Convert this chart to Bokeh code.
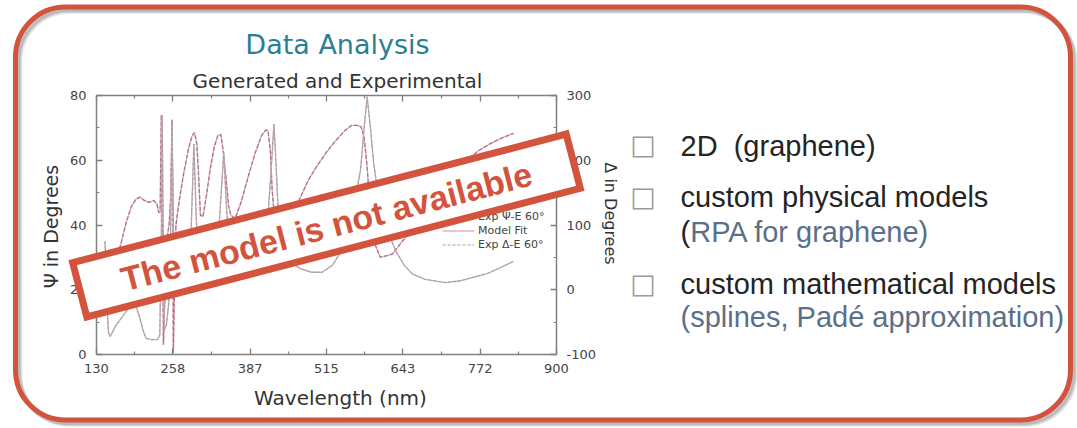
import numpy as np
from bokeh.plotting import figure
from bokeh.layouts import GridBox
from bokeh.models import (Range1d, LinearAxis, FixedTicker, Label, BoxAnnotation,
                          PolyAnnotation, Legend, LegendItem)
from bokeh.core.properties import value
from bokeh.embed import file_html
from bokeh.resources import INLINE

# ---------------- ellipsometry spectra ----------------
psi_wavelength = [150, 158, 166, 172, 180, 188, 196, 203, 210, 218, 226, 231, 234, 236.5,
                  238.5, 240.5, 242, 244.5, 248, 251.5, 254, 256.5, 258, 258.6, 260.5, 263,
                  268, 276, 284, 290, 294, 298, 301, 304, 308, 314, 320, 327, 333, 338, 342,
                  347, 351, 355, 362, 372, 384, 396, 406, 413, 417, 421, 424, 428, 434, 443,
                  456, 470, 485, 500, 515, 530, 545, 557, 566, 573, 578, 583, 588, 594, 605,
                  625, 655, 690, 720, 742, 756, 770, 790, 810, 828]
psi_deg = [22, 27, 31, 35, 41, 45.5, 48, 48.6, 47.6, 47, 47.6, 46.5, 44, 44,
           74, 38, 3, 18, 36, 40, 48, 72.5, 40, 0.5, 20, 40,
           47, 56, 63.5, 67.5, 68.5, 65, 55, 43, 42.5, 49, 57, 64, 67.6, 68, 63,
           54, 46, 43, 42, 47, 55, 62.5, 67.5, 69.3, 69.2, 63, 51, 42, 38.5, 38,
           42, 48, 54, 58.5, 62.5, 66, 69, 70.8, 70.8, 70.3, 67, 58, 45, 35, 30,
           31, 38, 47, 54, 58.5, 61, 63, 65.2, 67, 68.3]

delta_wavelength = [144, 146, 148, 150, 153, 162, 173, 184, 194, 202, 208, 213, 222, 232,
                    236, 238.5, 240, 241.5, 243.5, 247, 251, 254, 256.5, 258.5, 261, 266,
                    274, 282, 288, 293, 297, 302, 312, 326, 336, 343, 348, 355, 368, 388,
                    405, 416, 422, 427, 431, 435, 441, 452, 470, 490, 508, 525, 540, 553,
                    563, 572, 578, 583, 588, 594, 601, 612, 622, 631, 645, 658, 680, 714,
                    740, 764, 784, 806, 828]
delta_deg = [75, 40, -30, -66, -72, -56, -42, -28, -20, -42, -63, -75, -77, -77,
             -70, 80, 269, 110, -62, -55, -20, 80, 255, 110, 10, 0,
             5, 20, 80, 225, 110, 35, 18, 35, 110, 212, 120, 45, 20, 22,
             40, 100, 180, 256, 185, 105, 65, 45, 33, 27, 27, 38, 60, 95,
             140, 185, 250, 298, 255, 195, 150, 105, 80, 60, 38, 25, 16, 11,
             14, 20, 25, 34, 44]

wavelength_ticks = [130, 258, 387, 515, 643, 772, 900]
psi_ticks = [0, 20, 40, 60, 80]
delta_ticks = [-100, 0, 100, 200, 300]

bullet_lines = ["2D\u00a0 (graphene)", "custom physical models", "custom mathematical models"]
bullet_notes = ["(", "RPA for graphene)", "(splines, Padé approximation)"]

# ---------------- page geometry & palette ----------------
W, H = 1077, 428
FL, FR, FT, FB = 96, 556, 95, 354          # plot frame edges, page pixels
RED = "#d3533d"
AXIS = "#808080"
INK = "#242424"
SLATE = "#5b6f88"
TEAL = "#2a7f95"

# ---------------- the chart ----------------
p = figure(width=W, height=H, x_range=Range1d(130, 900), y_range=Range1d(0, 80),
           x_axis_type=None, y_axis_type=None,
           output_backend="svg", toolbar_location=None,
           min_border_left=FL, min_border_right=W - FR,
           min_border_top=FT, min_border_bottom=H - FB)
p.frame_align = False
p.background_fill_color = "white"
p.border_fill_color = "white"
p.outline_line_color = AXIS
p.outline_line_width = 1.5
p.extra_y_ranges = {"delta": Range1d(-100, 300)}


def mids(t):
    return [(a + b) / 2 for a, b in zip(t[:-1], t[1:])]


def style_axis(ax, show_labels=True, standoff=9):
    ax.axis_line_color = None
    ax.major_tick_in = 6
    ax.major_tick_out = 0
    ax.minor_tick_in = 3
    ax.minor_tick_out = 0
    ax.major_tick_line_color = AXIS
    ax.minor_tick_line_color = AXIS
    ax.major_tick_line_width = 1.3
    ax.minor_tick_line_width = 1.2
    ax.major_label_text_font = "DejaVu Sans"
    ax.major_label_text_font_size = "13px"
    ax.major_label_text_color = "#444444" if show_labels else None
    ax.major_label_standoff = standoff


x_ticker = FixedTicker(ticks=wavelength_ticks, minor_ticks=mids(wavelength_ticks))
bottom = LinearAxis(ticker=x_ticker)
top = LinearAxis(ticker=x_ticker)
left = LinearAxis(ticker=FixedTicker(ticks=psi_ticks, minor_ticks=mids(psi_ticks)))
right = LinearAxis(y_range_name="delta",
                   ticker=FixedTicker(ticks=delta_ticks, minor_ticks=mids(delta_ticks)),
                   major_label_overrides={t: str(t) for t in delta_ticks})
style_axis(bottom, standoff=9)
style_axis(top, show_labels=False)
style_axis(left, standoff=10)
style_axis(right, standoff=10)
p.add_layout(bottom, "below")
p.add_layout(top, "above")
p.add_layout(left, "left")
p.add_layout(right, "right")

psi_fit = p.line(psi_wavelength, psi_deg, line_color="#e6b0c3", line_width=1.3)
psi_exp = p.line(psi_wavelength, psi_deg, line_color="#a36b8c", line_width=1.3,
                 line_dash="4 2", line_alpha=0.9)
delta_fit = p.line(delta_wavelength, delta_deg, y_range_name="delta",
                   line_color="#c4b0ae", line_width=1.4)
delta_exp = p.line(delta_wavelength, delta_deg, y_range_name="delta",
                   line_color="#ab9cab", line_width=1, line_dash="3 2")

legend = Legend(items=[LegendItem(label=value("Exp \u03a8-E 60\u00b0"), renderers=[psi_exp]),
                       LegendItem(label=value("Model Fit"), renderers=[psi_fit]),
                       LegendItem(label=value("Exp \u0394-E 60\u00b0"), renderers=[delta_exp])],
                location=(346, 103), orientation="vertical",
                background_fill_alpha=0, border_line_color=None,
                label_text_font="DejaVu Sans", label_text_font_size="11px",
                label_text_color="#444444", glyph_width=32, glyph_height=13,
                label_height=13, label_standoff=4, spacing=1, padding=0, margin=0)
p.add_layout(legend)

# ---------------- slide layer (page pixels, y downwards) ----------------
s = figure(width=W, height=H, x_range=Range1d(0, W), y_range=Range1d(H, 0),
           x_axis_type=None, y_axis_type=None, min_border=0,
           output_backend="svg", toolbar_location=None)
s.frame_align = False
s.background_fill_color = None
s.border_fill_color = None
s.outline_line_color = None


def page_label(x, y, text, size, color, font="DejaVu Sans", align="left",
               baseline="alphabetic", angle=0, style="normal"):
    lab = Label(x=x, y=y, text=text, text_font=font, text_font_size=size,
                text_color=color, text_align=align, text_baseline=baseline,
                text_font_style=style, angle=angle, angle_units="deg")
    s.add_layout(lab)
    return lab


# rounded frame with a soft drop shadow
for off, alpha in [(4.5, 0.12), (3.5, 0.2), (2.5, 0.25)]:
    s.add_layout(BoxAnnotation(left=15 + off, right=1070 + off, top=6.5 + off,
                               bottom=419.5 + off, fill_color=None, fill_alpha=0,
                               line_color="#6f6f6f", line_alpha=alpha, line_width=5,
                               border_radius=50))
s.add_layout(BoxAnnotation(left=15, right=1070, top=6.5, bottom=419.5,
                           fill_color=None, fill_alpha=0, line_color=RED,
                           line_alpha=1, line_width=5, border_radius=50))

# headings and axis titles
page_label(337, 44, "Data Analysis", "27px", TEAL, align="center")
page_label(337, 80, "Generated and Experimental", "20px", "#333333", align="center")
page_label(340, 397, "Wavelength (nm)", "20px", "#333333", align="center")
page_label(50, 226, "\u03a8 in Degrees", "19px", "#333333", align="center",
           baseline="middle", angle=90)
page_label(610, 213, "\u0394 in Degrees", "16px", "#333333", align="center",
           baseline="middle", angle=-90)

# bullet list
bullet_y = [144, 196, 283]
line_y = [145, 196.5, 283]
for by, ly, txt in zip(bullet_y, line_y, bullet_lines):
    page_label(642.5, by, "\u25a1", "27px", "#9a9a9a", align="center", baseline="middle")
    page_label(680, ly, txt, "29px", INK, font="Liberation Sans")
page_label(680, 231.5, bullet_notes[0], "29px", INK, font="Liberation Sans")
page_label(689.7, 231.5, bullet_notes[1], "29px", SLATE, font="Liberation Sans")
page_label(680, 316.5, bullet_notes[2], "29px", SLATE, font="Liberation Sans")

# "not available" stamp across the chart
cx, cy, sw, sh = 326, 225, 510, 56
ang = np.deg2rad(14.6)
ux, uy = np.cos(ang), -np.sin(ang)
vx, vy = np.sin(ang), np.cos(ang)
corners = [(-1, -1), (1, -1), (1, 1), (-1, 1)]
xs = [cx + a * ux * sw / 2 + b * vx * sh / 2 for a, b in corners]
ys = [cy + a * uy * sw / 2 + b * vy * sh / 2 for a, b in corners]
s.add_layout(PolyAnnotation(xs=xs, ys=ys, fill_color="white", fill_alpha=1,
                            line_color=RED, line_alpha=1, line_width=7, line_join="miter"))
page_label(cx, cy + 1, "The model is not available", "34px", RED, font="Liberation Sans",
           align="center", baseline="middle", angle=14.6, style="bold")

# chart underneath, slide layer on top, sharing one grid cell
page = GridBox(children=[(p, 0, 0), (s, 0, 0)])

open("out.html", "w").write(file_html(page, INLINE))
